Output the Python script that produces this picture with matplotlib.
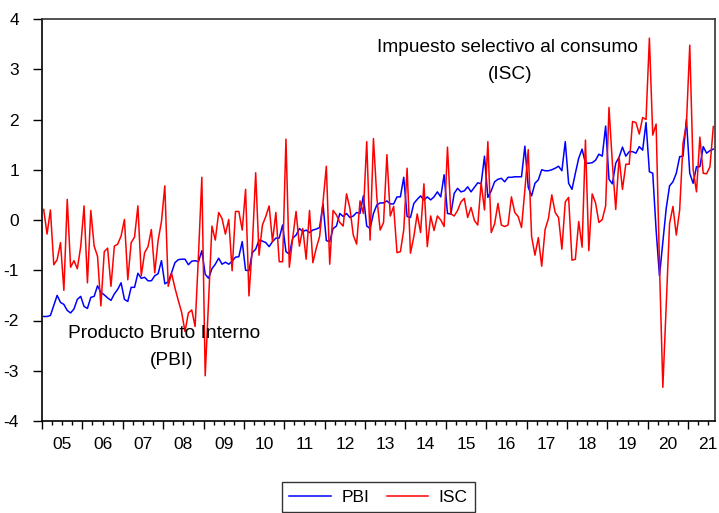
import matplotlib
matplotlib.use('Agg')
import matplotlib.pyplot as plt
import matplotlib.transforms as mtransforms
import numpy as np

plt.rcParams['font.family'] = ['Liberation Sans', 'DejaVu Sans']

# monthly data, 2005M01 - 2021M08
start_year = 2005
year_labels = ['05', '06', '07', '08', '09', '10', '11', '12', '13',
               '14', '15', '16', '17', '18', '19', '20', '21']

pbi = [
    -1.92, -1.92, -1.90, -1.70, -1.50, -1.64, -1.68, -1.80, -1.85, -1.77,
    -1.58, -1.52, -1.72, -1.76, -1.54, -1.52, -1.31, -1.44, -1.49, -1.55,
    -1.60, -1.47, -1.38, -1.25, -1.58, -1.62, -1.34, -1.34, -1.06, -1.16,
    -1.14, -1.21, -1.21, -1.11, -1.07, -0.81, -1.27, -1.23, -1.05, -0.85,
    -0.79, -0.78, -0.78, -0.89, -0.82, -0.81, -0.83, -0.61, -1.08, -1.16,
    -0.97, -0.88, -0.76, -0.88, -0.84, -0.88, -0.82, -0.74, -0.73, -0.43,
    -1.00, -1.01, -0.65, -0.58, -0.40, -0.42, -0.45, -0.53, -0.43, -0.36,
    -0.36, -0.10, -0.63, -0.68, -0.36, -0.30, -0.17, -0.23, -0.20, -0.25,
    -0.20, -0.18, -0.15, 0.32, -0.41, -0.43, -0.17, -0.12, 0.13, 0.07,
    0.13, 0.05, 0.08, 0.15, 0.13, 0.48, -0.12, -0.17, 0.13, 0.30,
    0.34, 0.34, 0.38, 0.32, 0.32, 0.46, 0.46, 0.85, 0.07, 0.05,
    0.33, 0.41, 0.48, 0.40, 0.46, 0.40, 0.46, 0.56, 0.46, 0.90,
    0.13, 0.12, 0.53, 0.63, 0.56, 0.58, 0.66, 0.56, 0.65, 0.74,
    0.72, 1.27, 0.45, 0.58, 0.76, 0.81, 0.83, 0.76, 0.85, 0.85,
    0.86, 0.86, 0.86, 1.47, 0.65, 0.48, 0.73, 0.80, 1.00, 0.98,
    0.98, 1.00, 1.03, 1.07, 0.98, 1.56, 0.73, 0.61, 0.93, 1.23,
    1.41, 1.13, 1.13, 1.14, 1.19, 1.31, 1.27, 1.87, 0.81, 0.72,
    1.13, 1.25, 1.45, 1.27, 1.36, 1.36, 1.33, 1.46, 1.39, 1.94,
    0.96, 0.93, -0.20, -1.11, -0.45, 0.23, 0.68, 0.76, 0.93, 1.26,
    1.27, 2.00, 0.93, 0.73, 1.06, 1.06, 1.46, 1.33, 1.38, 1.41,
]

isc = [
    0.21, -0.28, 0.20, -0.89, -0.79, -0.45, -1.40, 0.41, -0.94, -0.81,
    -0.97, -0.53, 0.28, -1.25, 0.19, -0.52, -0.72, -1.71, -0.63, -0.56,
    -1.32, -0.52, -0.48, -0.32, 0.01, -1.19, -0.45, -0.34, 0.28, -1.11,
    -0.65, -0.53, -0.19, -1.05, -0.41, -0.03, 0.68, -1.32, -1.06, -1.35,
    -1.60, -1.84, -2.22, -1.85, -1.79, -2.12, -0.70, 0.85, -3.10, -1.60,
    -0.12, -0.40, 0.15, 0.03, -0.28, 0.01, -1.01, 0.17, 0.17, -0.20,
    0.61, -1.51, -0.53, 0.94, -0.70, -0.10, 0.07, 0.28, -0.43, 0.15,
    -0.83, -0.83, 1.61, -0.94, -0.36, 0.17, -0.52, -0.17, -0.78, 0.19,
    -0.85, -0.56, -0.33, 0.35, 1.07, -0.88, 0.19, 0.10, -0.05, -0.12,
    0.52, 0.23, -0.30, -0.48, 0.38, 0.13, 1.56, -0.40, 1.62, 0.45,
    -0.20, -0.05, 1.30, 0.08, 0.27, -0.65, -0.63, -0.20, 1.03, -0.66,
    -0.33, 0.12, -0.25, 0.72, -0.53, 0.08, -0.21, 0.08, 0.00, -0.13,
    1.45, 0.12, 0.08, 0.19, 0.36, 0.43, 0.05, 0.25, -0.01, -0.10,
    0.74, 0.20, 1.56, -0.25, -0.08, 0.33, -0.10, -0.13, -0.10, 0.46,
    0.15, 0.07, -0.15, 0.60, 1.40, -0.33, -0.70, -0.35, -0.92, -0.19,
    0.03, 0.50, 0.15, 0.05, -0.58, 0.36, 0.45, -0.80, -0.78, -0.03,
    -0.54, 1.59, -0.61, 0.52, 0.34, -0.05, 0.01, 0.28, 2.24, 1.13,
    0.21, 1.25, 0.61, 1.11, 1.11, 1.96, 1.94, 1.71, 2.04, 2.00,
    3.62, 1.69, 1.91, -0.90, -3.33, -1.70, -0.07, 0.27, -0.30, 0.20,
    1.53, 1.90, 3.48, 1.00, 0.56, 1.65, 0.93, 0.92, 1.06, 1.86,
]

n = len(pbi)
t = np.arange(n)

fig = plt.figure(figsize=(7.19, 5.13), dpi=100)
ax = fig.add_axes([42/719, 1 - 421/513, (715 - 42)/719, (421 - 19)/513])

l1, = ax.plot(t, pbi, color='#0000ff', lw=1.1, label='PBI')
l2, = ax.plot(t, isc, color='#ff0000', lw=1.1, label='ISC')

ax.set_xlim(-0.5, n - 0.5)
ax.set_ylim(-4, 4)
ax.set_yticks(range(-4, 5))
ax.set_yticklabels([str(v) for v in range(-4, 5)])

# year boundaries as major ticks, quarters as minor ticks
bounds = [12 * k - 0.5 for k in range(len(year_labels))]
quarters = [q - 0.5 for q in range(0, n, 3) if q % 12 != 0]
ax.set_xticks(bounds)
ax.set_xticklabels([])
ax.set_xticks(quarters, minor=True)
ax.tick_params(axis='x', which='major', direction='out', length=6, width=1)
ax.tick_params(axis='x', which='minor', direction='out', length=3.2, width=1)
ax.tick_params(axis='y', direction='out', length=6.5, width=1, labelsize=12.5, pad=10)

trans = mtransforms.blended_transform_factory(ax.transData, ax.transAxes)
for k, lab in enumerate(year_labels):
    ax.text(12 * k + 5.5, -0.058, lab, transform=trans, ha='center', va='center',
            fontsize=12.5)

for side in ['left', 'bottom']:
    ax.spines[side].set_linewidth(1.2)
    ax.spines[side].set_color('black')
for side in ['top', 'right']:
    ax.spines[side].set_linewidth(1.2)
    ax.spines[side].set_color('#333333')

ax.text(137.7, 3.44, 'Impuesto selectivo al consumo', ha='center', va='center', fontsize=13.8)
ax.text(138.6, 2.89, '(ISC)', ha='center', va='center', fontsize=13.8)
ax.text(35.9, -2.25, 'Producto Bruto Interno', ha='center', va='center', fontsize=13.8)
ax.text(38.1, -2.79, '(PBI)', ha='center', va='center', fontsize=13.8)

leg = fig.legend(handles=[l1, l2], loc='center', bbox_to_anchor=(378.5/719, 1 - 497/513),
                 ncol=2, fontsize=12.5, frameon=True, fancybox=False, edgecolor='black',
                 handlelength=2.4, columnspacing=1.0, handletextpad=0.6,
                 borderpad=0.4)
leg.get_frame().set_linewidth(1.0)

fig.savefig('out.png', dpi=100)
